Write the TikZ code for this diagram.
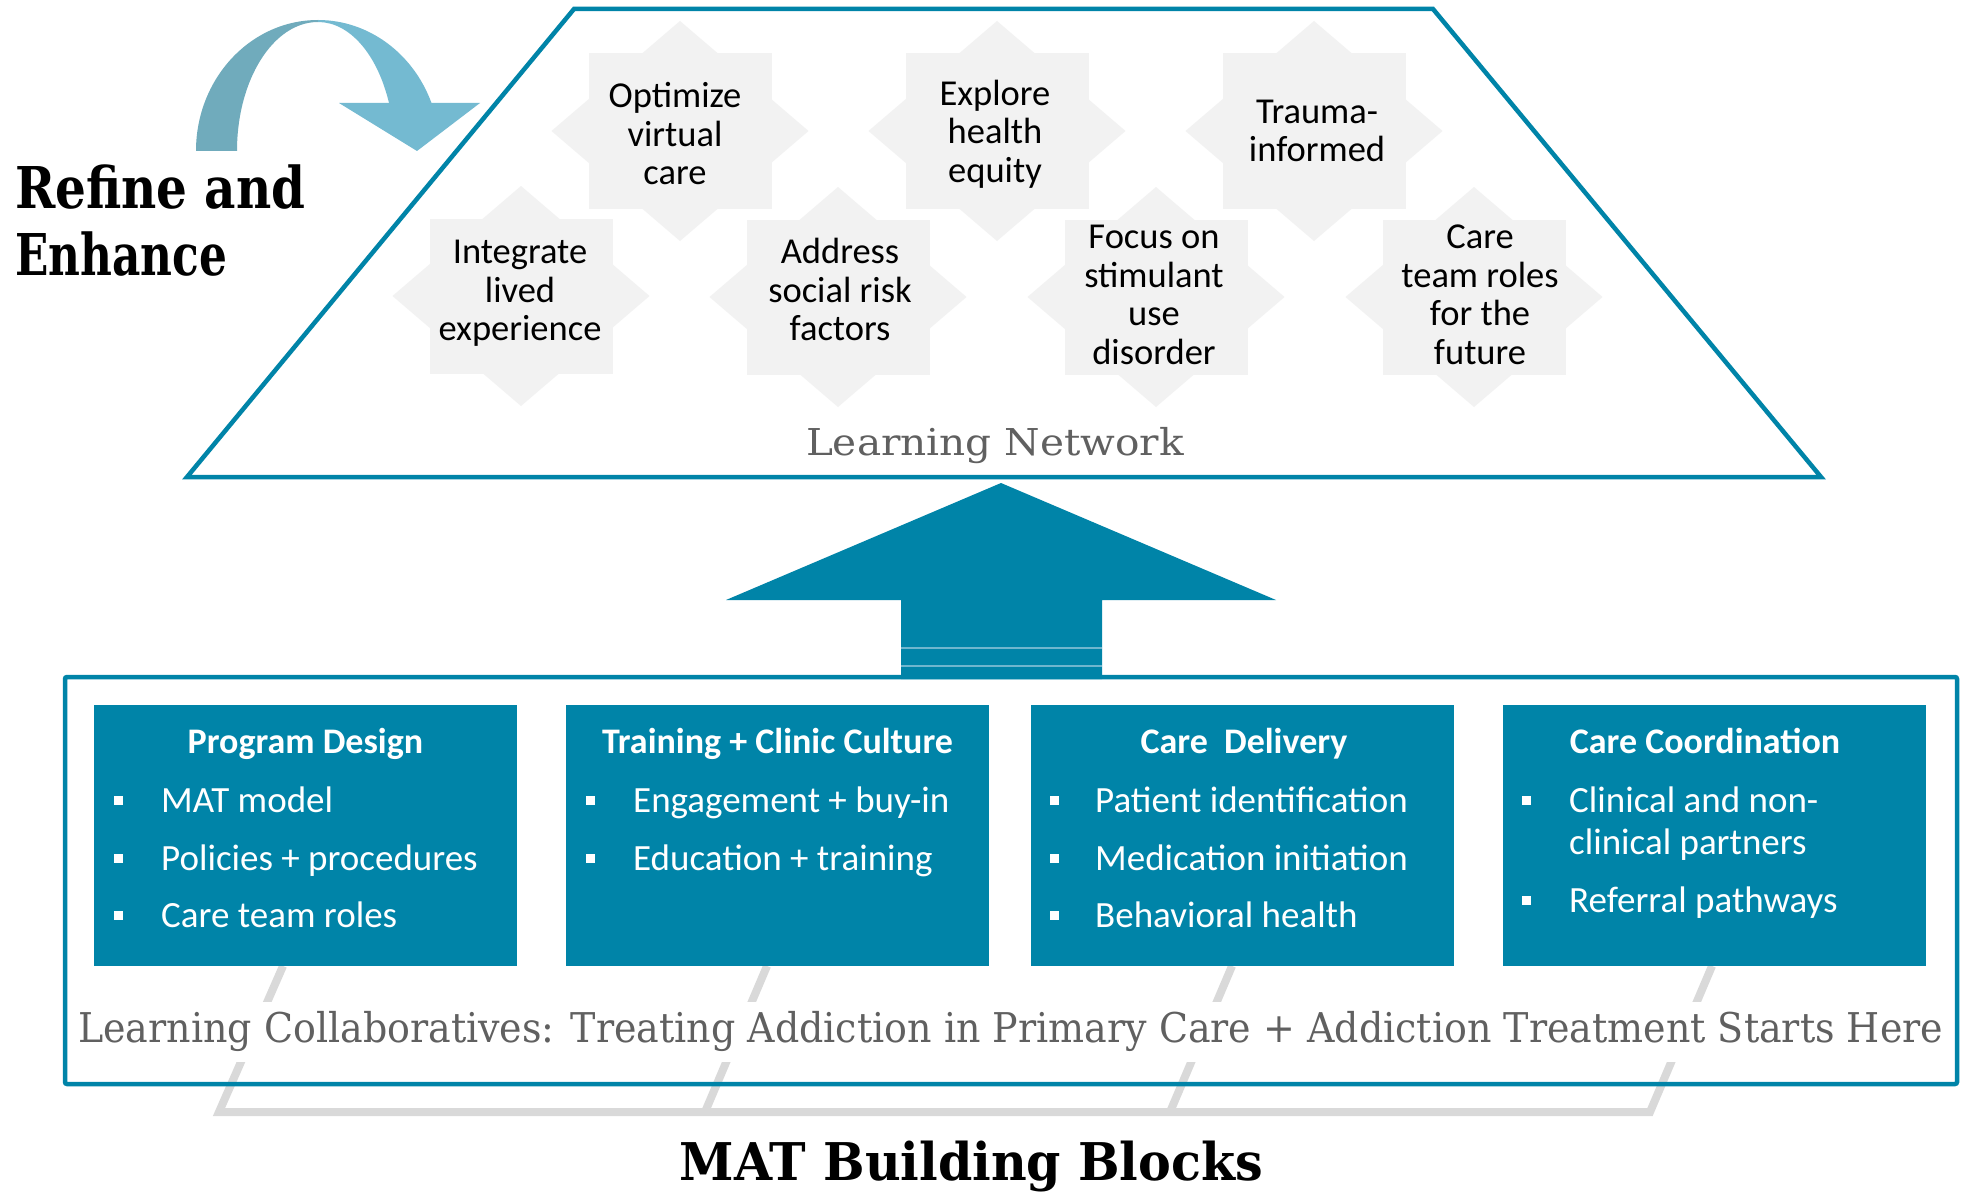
\documentclass[tikz,border=0pt]{standalone}
\usepackage{fontspec}
\usepackage{graphicx}
\setmainfont{Carlito}
\newfontfamily\slab{DejaVu Serif}
\definecolor{tealmain}{RGB}{0,132,168}
\definecolor{arrowdark}{RGB}{112,171,188}
\definecolor{arrowlight}{RGB}{116,186,209}
\definecolor{starfill}{RGB}{242,242,242}
\definecolor{slabgray}{RGB}{96,96,96}
\definecolor{bracketgray}{RGB}{217,217,217}
\definecolor{shaftline}{RGB}{110,182,206}
\tikzset{
  startext/.style={align=center, inner sep=0pt, text=black, font=\fontsize{36.5}{38.5}\selectfont},
  bluebox/.style={fill=tealmain, draw=none, minimum width=423pt, minimum height=261pt, anchor=north west, inner sep=0pt},
  boxtitle/.style={anchor=base, inner sep=0pt, text=white, font=\bfseries\fontsize{36}{40}\selectfont},
  bulletsq/.style={fill=white, draw=none, minimum size=9pt, inner sep=0pt},
  btext/.style={anchor=base west, inner sep=0pt, text=white, font=\fontsize{37}{42}\selectfont},
  bracket/.style={draw=bracketgray, line width=8pt, line join=miter},
  frameline/.style={draw=tealmain, line width=4.5pt},
}
\newcommand\mystar[1]{%
  \fill[starfill,shift={#1}] (-91.5,-77.5) rectangle (91.5,77.5);
  \fill[starfill,shift={#1}] (0,-110) -- (128.5,0) -- (0,110) -- (-128.5,0) -- cycle;}
\begin{document}
\begin{tikzpicture}[x=1pt,y=-1pt]
\fill[white] (0,0) rectangle (1965,1196);
\useasboundingbox (0,0) rectangle (1965,1196);

% curved arrow
\fill[arrowdark] (196,151) .. controls (196,78.6) and (250.6,20) .. (318,20)
  -- (318,22) .. controls (273.3,22) and (237,79.8) .. (237,151) -- cycle;
\fill[arrowlight] (318,20) .. controls (368.1,20) and (413.1,52.9) .. (431.5,103)
  -- (389,103) .. controls (377.3,53.9) and (349.4,22) .. (318,22) -- cycle;
\fill[arrowlight] (339,103) -- (480,103) -- (417,151) -- cycle;

\node[anchor=base west, inner sep=0pt] (refine) at (15,208)
  {\resizebox{290pt}{\height}{\slab\bfseries\fontsize{57.6}{60}\selectfont Refine and}};
\node[anchor=base west, inner sep=0pt] (enhance) at (15,275)
  {\resizebox{212pt}{\height}{\slab\bfseries\fontsize{57.6}{60}\selectfont Enhance}};

% stars
\mystar{(680,131)}
\mystar{(997,131)}
\mystar{(1314,131)}
\mystar{(521,296)}
\mystar{(838,297)}
\mystar{(1156,297)}
\mystar{(1474,297)}
\node[startext] (s1) at (675,134) {Optimize\\virtual\\care};
\node[startext] (s2) at (995,134) {Explore\\health\\equity};
\node[startext] (s3) at (1317,131) {Trauma-\\informed};
\node[startext] (s4) at (520,293.5) {Integrate\\lived\\experience};
\node[startext] (s5) at (840,289.5) {Address\\social risk\\factors};
\node[startext] (s6) at (1154,295) {Focus on\\stimulant\\use\\disorder};
\node[startext] (s7) at (1480,295) {Care\\team roles\\for the\\future};

% trapezoid
\draw[frameline, line join=miter] (574,9) -- (1433,9) -- (1821,477) -- (187,477) -- cycle;
\node[anchor=base, inner sep=0pt, text=slabgray] (ln) at (995,455)
  {\resizebox{378pt}{\height}{\slab\fontsize{37}{40}\selectfont Learning Network}};

% up arrow
\fill[tealmain] (1001,483) -- (1276,600) -- (1102,600) -- (1102,679) -- (901,679) -- (901,600) -- (726,600) -- cycle;
\draw[shaftline, line width=1.2pt] (901,648) -- (1102,648) (901,666) -- (1102,666);

% gray brackets
\draw[bracket] (283,966) -- (219,1112) -- (1650,1112) -- (1712,966);
\draw[bracket] (767,966) -- (705,1112);
\draw[bracket] (1232,966) -- (1170,1112);

% container
\draw[frameline, rounded corners=2pt] (65,677) rectangle (1957,1084);
\node[anchor=base west, inner sep=0pt, fill=white, text=slabgray, text height=40pt, text depth=20pt] (lc) at (78,1042)
  {\resizebox{1865pt}{\height}{\slab\fontsize{41}{44}\selectfont Learning Collaboratives: Treating Addiction in Primary Care + Addiction Treatment Starts Here}};

% blue boxes
\node[bluebox] (b1) at (94,705) {};
\node[bluebox] (b2) at (566,705) {};
\node[bluebox] (b3) at (1031,705) {};
\node[bluebox] (b4) at (1503,705) {};

\node[boxtitle] (h1) at (305.5,753) {Program Design};
\node[boxtitle] (h2) at (777.5,753) {Training + Clinic Culture};
\node[boxtitle] (h3) at (1244,753) {Care\ \ Delivery};
\node[boxtitle] (h4) at (1705,753) {Care Coordination};

% box 1
\node[bulletsq] (p1) at (118,800) {};
\node[bulletsq] (p2) at (118,858) {};
\node[bulletsq] (p3) at (118,915) {};
\node[btext] (q1) at (161,812) {MAT model};
\node[btext] (q2) at (161,870) {Policies + procedures};
\node[btext] (q3) at (161,927) {Care team roles};
% box 2
\node[bulletsq] (p4) at (590,800) {};
\node[bulletsq] (p5) at (590,858) {};
\node[btext] (q4) at (633,812) {Engagement + buy-in};
\node[btext] (q5) at (633,870) {Education + training};
% box 3
\node[bulletsq] (p6) at (1054,800) {};
\node[bulletsq] (p7) at (1054,858) {};
\node[bulletsq] (p8) at (1054,915) {};
\node[btext] (q6) at (1095,812) {Patient identification};
\node[btext] (q7) at (1095,870) {Medication initiation};
\node[btext] (q8) at (1095,927) {Behavioral health};
% box 4
\node[bulletsq] (p9) at (1526,800) {};
\node[bulletsq] (p10) at (1526,900) {};
\node[btext] (q9) at (1569,812) {Clinical and non-};
\node[btext] (q10) at (1569,854) {clinical partners};
\node[btext] (q11) at (1569,912) {Referral pathways};

\node[anchor=base, inner sep=0pt] (mat) at (971.5,1180)
  {\resizebox{583pt}{\height}{\slab\bfseries\fontsize{52}{56}\selectfont MAT Building Blocks}};
\end{tikzpicture}
\end{document}
